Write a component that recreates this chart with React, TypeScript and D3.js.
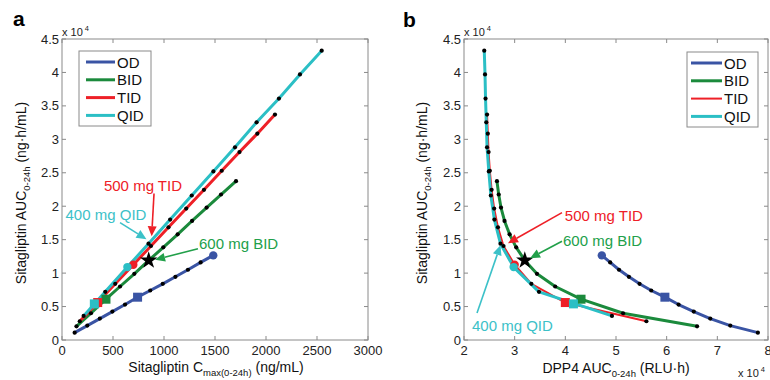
import React from 'react';
import * as d3 from 'd3';

// dose levels per administration (mg)
const doses = [100, 200, 300, 400, 500, 600, 700, 800, 900, 1000, 1100, 1200];

// sitagliptin Cmax(0-24h), ng/mL
const odCmax = [124, 248, 371, 494, 618, 741, 865, 988, 1112, 1235, 1359, 1483];
const bidCmax = [142, 284, 431, 569, 709, 850, 993, 1134, 1275, 1418, 1559, 1706];
const tidCmax = [174, 350, 522, 699, 872, 1044, 1218, 1392, 1566, 1740, 1915, 2088];
const qidCmax = [212, 424, 641, 848, 1060, 1272, 1484, 1696, 1908, 2127, 2333, 2546];

// sitagliptin AUC(0-24h), ng·h/mL
const odAuc = [1100, 2150, 3200, 4250, 5300, 6400, 7400, 8400, 9450, 10500, 11600, 12650];
const bidAuc = [2050, 4000, 6100, 8000, 9900, 11900, 13850, 15800, 17800, 19800, 21750, 23750];
const tidAuc = [2800, 5600, 8400, 11250, 14050, 16850, 19650, 22450, 25300, 28100, 30850, 33700];
const qidAuc = [3600, 7200, 10900, 14400, 18000, 21600, 25200, 28800, 32550, 36100, 39700, 43250];

// DPP4 AUC(0-24h), RLU·h
const odDpp4 = [78000, 72550, 68600, 65350, 62350, 59650, 56950, 54650, 52550, 50600, 48850, 47200];
const bidDpp4 = [66000, 51400, 43100, 38000, 34400, 32000, 30300, 29000, 28000, 27300, 26850, 26500];
const tidDpp4 = [56000, 40000, 33300, 30000, 27800, 26700, 25950, 25450, 25100, 24850, 24700, 24550];
const qidDpp4 = [49200, 34800, 29800, 27200, 26000, 25300, 24900, 24550, 24400, 24250, 24150, 24000];

// 150 mg QID (600 mg/day) marker, off the 100 mg grid
const qidSquare = { cmax: 317, auc: 5400, dpp4: 41600 };

const seriesNames = ['OD', 'BID', 'TID', 'QID'];
const seriesColors = ['#3a54a4', '#1b8a3c', '#ee2027', '#2bbfc5'];

// indices into doses for the big markers (600 mg/day squares, 1200 mg/day circles)
const squareIdx = [5, 2, 1, -1];
const circleIdx = [11, -1, 3, 2];
const starIdx = 5; // 600 mg BID

const yTicks = [0, 5000, 10000, 15000, 20000, 25000, 30000, 35000, 40000, 45000];
const xTicksA = [0, 500, 1000, 1500, 2000, 2500, 3000];
const xTicksB = [20000, 30000, 40000, 50000, 60000, 70000, 80000];

const FONT = '"Liberation Sans", Arial, Helvetica, sans-serif';

type Ann = { text: string; color: string; tx: number; ty: number; anchor: string; x1: number; y1: number; x2: number; y2: number };

const annA: Ann[] = [
  { text: '500 mg TID', color: '#ee2027', tx: 794, ty: 22350, anchor: 'middle', x1: 902, y1: 21900, x2: 879, y2: 15500 },
  { text: '400 mg QID', color: '#3cc1c8', tx: 431, ty: 18000, anchor: 'middle', x1: 569, y1: 17550, x2: 828, y2: 15075 },
  { text: '600 mg BID', color: '#22a04a', tx: 1343, ty: 13650, anchor: 'start', x1: 1333, y1: 13650, x2: 912, y2: 12000 },
];
const annB: Ann[] = [
  { text: '500 mg TID', color: '#ee2027', tx: 39900, ty: 17850, anchor: 'start', x1: 39340, y1: 19050, x2: 28680, y2: 14475 },
  { text: '600 mg BID', color: '#22a04a', tx: 39540, ty: 14100, anchor: 'start', x1: 39340, y1: 14775, x2: 33030, y2: 12225 },
  { text: '400 mg QID', color: '#3cc1c8', tx: 21580, ty: 1350, anchor: 'start', x1: 22570, y1: 4050, x2: 27200, y2: 14175 },
];

const Arrow = ({ x1, y1, x2, y2, color }: { x1: number; y1: number; x2: number; y2: number; color: string }) => {
  const a = Math.atan2(y2 - y1, x2 - x1);
  const L = 10, hw = 4.5;
  const bx = x2 - L * Math.cos(a), by = y2 - L * Math.sin(a);
  const px = -Math.sin(a) * hw, py = Math.cos(a) * hw;
  return (
    <g>
      <line x1={x1} y1={y1} x2={bx} y2={by} stroke={color} strokeWidth={1.6} />
      <polygon points={`${x2},${y2} ${bx + px},${by + py} ${bx - px},${by - py}`} fill={color} />
    </g>
  );
};

type PanelProps = {
  x: d3.ScaleLinear<number, number>;
  y: d3.ScaleLinear<number, number>;
  xTicks: number[];
  xFmt: (v: number) => string;
  xs: number[][];
  ys: number[][];
  widths: number[];
  sq: { x: number; y: number };
  ann: Ann[];
  legend: { x: number; y: number; w: number; h: number; lx1: number; lx2: number; tx: number };
};

const Panel = ({ x, y, xTicks, xFmt, xs, ys, widths, sq, ann, legend }: PanelProps) => {
  const [x0, x1] = x.range();
  const [y0, y1] = y.range(); // y0 bottom, y1 top
  const line = d3.line<[number, number]>().x(d => x(d[0])).y(d => y(d[1]));
  const pts = (i: number) => doses.map((_, k) => [xs[i][k], ys[i][k]] as [number, number]);
  const star = d3.symbol(d3.symbolStar, 95)();
  const tick = 4;
  return (
    <g>
      {/* axes box */}
      <rect x={x0} y={y1} width={x1 - x0} height={y0 - y1} fill="none" stroke="#8a8a8a" strokeWidth={1} />
      {xTicks.map(t => (
        <g key={'x' + t}>
          <line x1={x(t)} x2={x(t)} y1={y0} y2={y0 - tick} stroke="#8a8a8a" />
          <line x1={x(t)} x2={x(t)} y1={y1} y2={y1 + tick} stroke="#8a8a8a" />
          <text x={x(t)} y={y0 + 15} textAnchor="middle" fontSize={13} fill="#222">{xFmt(t)}</text>
        </g>
      ))}
      {yTicks.map(t => (
        <g key={'y' + t}>
          <line x1={x0} x2={x0 + tick} y1={y(t)} y2={y(t)} stroke="#8a8a8a" />
          <line x1={x1} x2={x1 - tick} y1={y(t)} y2={y(t)} stroke="#8a8a8a" />
          <text x={x0 - 3} y={y(t) + 4.5} textAnchor="end" fontSize={13} fill="#222">{String(t / 10000)}</text>
        </g>
      ))}
      <text x={x0} y={y1 - 3} fontSize={11} fill="#222">x 10<tspan fontSize={7.5} dy={-5} dx={2}>4</tspan></text>

      {/* lines */}
      {seriesNames.map((n, i) => (
        <path key={n} d={line(pts(i)) || ''} fill="none" stroke={seriesColors[i]} strokeWidth={widths[i]} strokeLinejoin="round" strokeLinecap="round" />
      ))}
      {/* dose dots */}
      {seriesNames.map((n, i) => pts(i).map((p, k) => (
        <circle key={n + k} cx={x(p[0])} cy={y(p[1])} r={2.1} fill="#000" />
      )))}
      {/* big markers */}
      {seriesNames.map((n, i) => (
        <g key={'m' + n} fill={seriesColors[i]}>
          {squareIdx[i] >= 0 && (
            <rect x={x(xs[i][squareIdx[i]]) - 4.5} y={y(ys[i][squareIdx[i]]) - 4.5} width={9} height={9} />
          )}
          {i === 3 && <rect x={x(sq.x) - 4.5} y={y(sq.y) - 4.5} width={9} height={9} />}
          {circleIdx[i] >= 0 && (
            <circle cx={x(xs[i][circleIdx[i]])} cy={y(ys[i][circleIdx[i]])} r={4.2} />
          )}
        </g>
      ))}
      <path d={star || ''} transform={`translate(${x(xs[1][starIdx])},${y(ys[1][starIdx])})`} fill="#000" />

      {/* annotations */}
      {ann.map(a => (
        <g key={a.text}>
          <Arrow x1={x(a.x1)} y1={y(a.y1)} x2={x(a.x2)} y2={y(a.y2)} color={a.color} />
          <text x={x(a.tx)} y={y(a.ty)} textAnchor={a.anchor} fontSize={15} fill={a.color}>{a.text}</text>
        </g>
      ))}

      {/* legend */}
      <rect x={legend.x} y={legend.y} width={legend.w} height={legend.h} fill="#fff" stroke="#8a8a8a" />
      {seriesNames.map((n, i) => {
        const ly = legend.y + 11 + i * 17.8;
        return (
          <g key={'l' + n}>
            <line x1={legend.lx1} x2={legend.lx2} y1={ly} y2={ly} stroke={seriesColors[i]} strokeWidth={widths[i]} />
            <text x={legend.tx} y={ly + 5.5} fontSize={15} fill="#111">{n}</text>
          </g>
        );
      })}
    </g>
  );
};

export default function App() {
  const yA = d3.scaleLinear().domain([0, 45000]).range([340, 39]);
  const xA = d3.scaleLinear().domain([0, 3000]).range([62, 368]);
  const xB = d3.scaleLinear().domain([20000, 80000]).range([464, 768]);

  return (
    <svg width={770} height={380} style={{ position: 'absolute', left: 0, top: 0, background: '#fff' }} fontFamily={FONT}>
      <text x={13} y={26} fontSize={21} fontWeight="bold">a</text>
      <text x={403} y={27} fontSize={21} fontWeight="bold">b</text>

      <Panel
        x={xA} y={yA} xTicks={xTicksA} xFmt={v => String(v)}
        xs={[odCmax, bidCmax, tidCmax, qidCmax]}
        ys={[odAuc, bidAuc, tidAuc, qidAuc]}
        widths={[3, 3, 3, 3]}
        sq={{ x: qidSquare.cmax, y: qidSquare.auc }}
        ann={annA}
        legend={{ x: 79, y: 51, w: 72, h: 75, lx1: 86, lx2: 115, tx: 117 }}
      />
      <Panel
        x={xB} y={yA} xTicks={xTicksB} xFmt={v => String(v / 10000)}
        xs={[odDpp4, bidDpp4, tidDpp4, qidDpp4]}
        ys={[odAuc, bidAuc, tidAuc, qidAuc]}
        widths={[3, 3, 2, 3]}
        sq={{ x: qidSquare.dpp4, y: qidSquare.auc }}
        ann={annB}
        legend={{ x: 687, y: 52, w: 71, h: 75, lx1: 691, lx2: 722, tx: 724 }}
      />

      {/* axis titles */}
      <text x={216} y={372} textAnchor="middle" fontSize={14} fill="#111">
        Sitagliptin C<tspan fontSize={9.5} dy={4}>max(0-24h)</tspan><tspan dy={-4}> (ng/mL)</tspan>
      </text>
      <text transform="translate(26,193) rotate(-90)" textAnchor="middle" fontSize={14} fill="#111">
        Sitagliptin AUC<tspan fontSize={9.5} dy={4}>0-24h</tspan><tspan dy={-4}> (ng·h/mL)</tspan>
      </text>
      <text x={616} y={373} textAnchor="middle" fontSize={14} fill="#111">
        DPP4 AUC<tspan fontSize={9.5} dy={4}>0-24h</tspan><tspan dy={-4}> (RLU·h)</tspan>
      </text>
      <text transform="translate(427,193) rotate(-90)" textAnchor="middle" fontSize={14} fill="#111">
        Sitagliptin AUC<tspan fontSize={9.5} dy={4}>0-24h</tspan><tspan dy={-4}> (ng·h/mL)</tspan>
      </text>
      <text x={738} y={377} fontSize={11} fill="#222">x 10<tspan fontSize={7.5} dy={-5} dx={2}>4</tspan></text>
    </svg>
  );
}
